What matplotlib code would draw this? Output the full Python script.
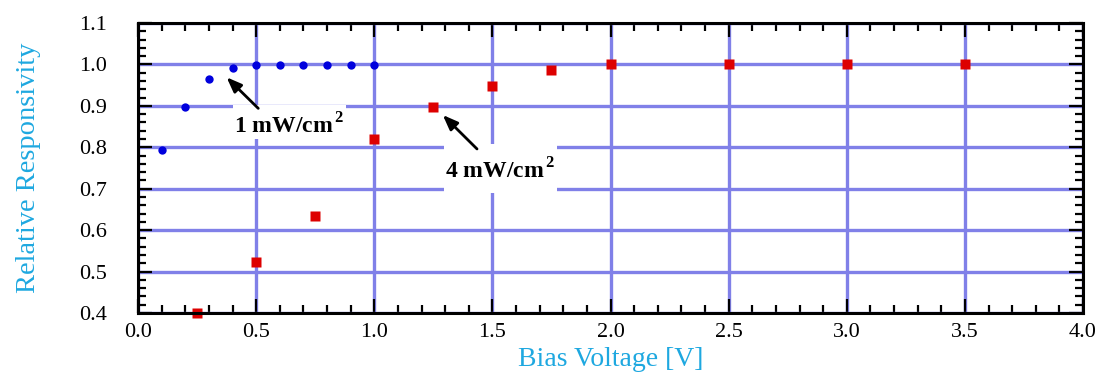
#!/usr/bin/env python3
"""Relative responsivity vs bias voltage at two illumination levels."""

import matplotlib

matplotlib.use("Agg")
import matplotlib.pyplot as plt
from matplotlib.path import Path
from matplotlib.ticker import MultipleLocator, FormatStrFormatter

plt.rcParams["font.family"] = ["Liberation Serif", "DejaVu Serif"]
plt.rcParams["mathtext.fontset"] = "custom"
plt.rcParams["mathtext.rm"] = "Liberation Serif"
plt.rcParams["mathtext.bf"] = "Liberation Serif:bold"

# 1 mW/cm^2 series
bias_low = [0.1, 0.2, 0.3, 0.4, 0.5, 0.6, 0.7, 0.8, 0.9, 1.0]
resp_low = [0.793, 0.897, 0.966, 0.992, 0.999, 0.999, 0.999, 0.999, 0.999, 0.999]

# 4 mW/cm^2 series
bias_high = [0.25, 0.5, 0.75, 1.0, 1.25, 1.5, 1.75, 2.0, 2.5, 3.0, 3.5]
resp_high = [0.401, 0.524, 0.633, 0.821, 0.898, 0.949, 0.987, 1.0, 1.0, 1.0, 1.0]

label_color = "#1EA8E0"
grid_color = "#8080E8"


def white_box(pad_x, pad_top, pad_bottom):
    # rectangle around the text with separate paddings (pixels)
    def box(x0, y0, width, height, mutation_size):
        x1, y1 = x0 + width + pad_x, y0 + height + pad_top
        x0, y0 = x0 - pad_x, y0 - pad_bottom
        return Path([(x0, y0), (x1, y0), (x1, y1), (x0, y1), (x0, y0)], closed=True)
    return box


fig = plt.figure(figsize=(11.04, 3.74), dpi=100)
ax = fig.add_axes([0.125, 0.163, 0.856, 0.7755])

ax.set_xlim(0.0, 4.0)
ax.set_ylim(0.4, 1.1)

ax.xaxis.set_major_locator(MultipleLocator(0.5))
ax.xaxis.set_minor_locator(MultipleLocator(0.1))
ax.yaxis.set_major_locator(MultipleLocator(0.1))
ax.yaxis.set_minor_locator(MultipleLocator(0.02))
ax.xaxis.set_major_formatter(FormatStrFormatter("%.1f"))
ax.yaxis.set_major_formatter(FormatStrFormatter("%.1f"))

ax.grid(True, which="major", color=grid_color, lw=2.4, zorder=0)
ax.set_axisbelow(True)

ax.tick_params(which="both", direction="in", top=True, right=True,
               width=1.6, color="black", labelsize=16)
ax.tick_params(which="major", length=10)
ax.tick_params(which="minor", length=5.5)
ax.tick_params(axis="x", pad=7)
ax.tick_params(axis="y", pad=22)
for s in ax.spines.values():
    s.set_linewidth(2.2)
    s.set_zorder(5)

ax.plot(bias_low, resp_low, "o", color="#0000DD", ms=6, mec="none",
        zorder=4, clip_on=False)
ax.plot(bias_high, resp_high, "s", color="#DD0000", ms=7, mec="none",
        zorder=4, clip_on=False)

ax.text(0.641, 0.852, r"1 mW/cm$^{\,\mathbf{2}}$", fontsize=17, fontweight="bold",
        ha="center", va="center", zorder=3,
        bbox=dict(boxstyle=white_box(1, 8, 1), fc="white", ec="none"))
ax.text(1.534, 0.744, r"4 mW/cm$^{\,\mathbf{2}}$", fontsize=17, fontweight="bold",
        ha="center", va="center", zorder=3,
        bbox=dict(boxstyle=white_box(1, 14, 10), fc="white", ec="none"))

arrow = dict(arrowstyle="-|>,head_length=0.9,head_width=0.35", color="black",
             lw=2, shrinkA=0, shrinkB=0)
ax.annotate("", xy=(0.375, 0.969), xytext=(0.509, 0.894), arrowprops=arrow, zorder=6)
ax.annotate("", xy=(1.290, 0.878), xytext=(1.435, 0.796), arrowprops=arrow, zorder=6)

ax.set_xlabel("Bias Voltage [V]", fontsize=20, color=label_color, labelpad=4)
ax.set_ylabel("Relative Responsivity", fontsize=20.5, color=label_color, labelpad=28)

fig.savefig("out.png", dpi=100)
